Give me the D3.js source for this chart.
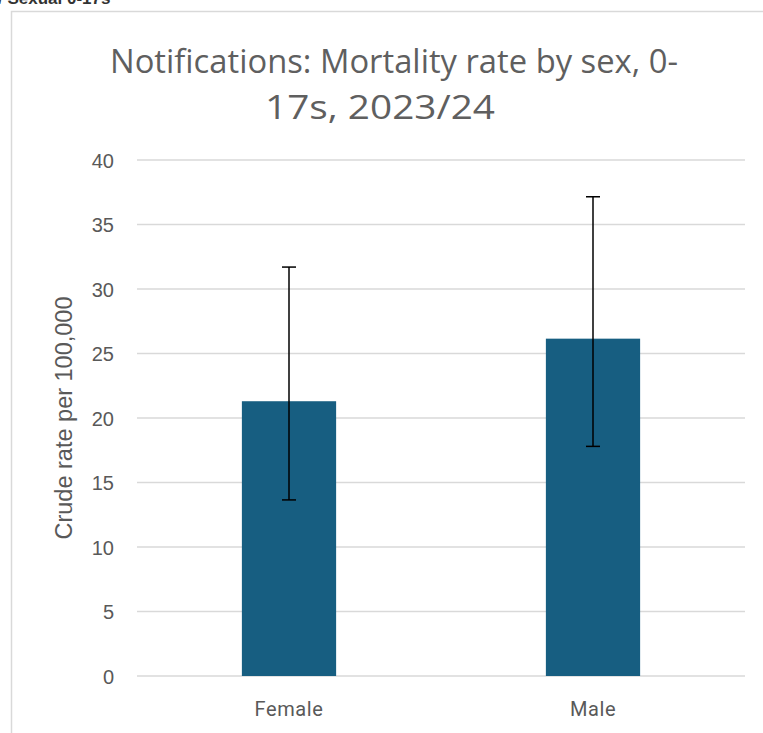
<!DOCTYPE html>
<html>
<head>
<meta charset="utf-8">
<script src="https://cdn.jsdelivr.net/npm/d3@7"></script>
<style>
  html, body { margin: 0; padding: 0; background: #fff; }
  svg { display: block; }
</style>
</head>
<body>
<svg id="chart" width="763" height="733"></svg>
<script>
// ---- data ----
const categories = ["Female", "Male"];
const rates = [21.3, 26.15];
const lowerCI = [13.65, 17.8];
const upperCI = [31.7, 37.15];
const yTicks = [0, 5, 10, 15, 20, 25, 30, 35, 40];
const titleLines = ["Notifications: Mortality rate by sex, 0-", "17s, 2023/24"];
const yAxisTitle = "Crude rate per 100,000";
const clippedHeader = "/ Sexual 0-17s";

const svg = d3.select("#chart");
const plot = { left: 137, right: 745, top: 160, bottom: 676 };
const grey = "#595959";

// clipped header text at very top
svg.append("text")
  .attr("x", -2).attr("y", 4)
  .attr("font-family", "Liberation Sans, Arial, sans-serif")
  .attr("font-size", 17).attr("font-weight", "bold")
  .attr("fill", "#333")
  .text(clippedHeader);

// chart area border
svg.append("rect")
  .attr("x", 11.5).attr("y", 11.5)
  .attr("width", 770).attr("height", 760)
  .attr("fill", "#fff")
  .attr("stroke", "#d9d9d9").attr("stroke-width", 1.5);

const x = d3.scaleBand().domain(categories).range([plot.left, plot.right]).padding(0);
const y = d3.scaleLinear().domain([0, 40]).range([plot.bottom, plot.top]);
const barW = x.bandwidth() * 0.31;

// gridlines
svg.append("g").selectAll("line").data(yTicks).join("line")
  .attr("x1", plot.left).attr("x2", plot.right)
  .attr("y1", d => y(d)).attr("y2", d => y(d))
  .attr("stroke", "#d9d9d9").attr("stroke-width", 1.5);

// y axis tick labels
const yAxis = d3.axisLeft(y).tickValues(yTicks).tickSize(0).tickPadding(0);
const gy = svg.append("g").attr("transform", `translate(${114},0)`).call(yAxis);
gy.select(".domain").remove();
gy.selectAll("text")
  .attr("font-family", "Liberation Sans, Arial, sans-serif")
  .attr("font-size", 20).attr("fill", grey)
  .attr("dy", "0.36em");

// bars
svg.append("g").selectAll("rect").data(categories).join("rect")
  .attr("x", d => x(d) + x.bandwidth() / 2 - barW / 2)
  .attr("width", barW)
  .attr("y", (d, i) => y(rates[i]))
  .attr("height", (d, i) => y(0) - y(rates[i]))
  .attr("fill", "#175e81");

// error bars
const eb = svg.append("g").attr("stroke", "#000").attr("stroke-width", 1.5);
categories.forEach((c, i) => {
  const cx = x(c) + x.bandwidth() / 2;
  eb.append("line").attr("x1", cx).attr("x2", cx).attr("y1", y(upperCI[i])).attr("y2", y(lowerCI[i]));
  eb.append("line").attr("x1", cx - 7).attr("x2", cx + 7).attr("y1", y(upperCI[i])).attr("y2", y(upperCI[i]));
  eb.append("line").attr("x1", cx - 7).attr("x2", cx + 7).attr("y1", y(lowerCI[i])).attr("y2", y(lowerCI[i]));
});

// x axis labels
const xAxis = d3.axisBottom(x).tickSize(0).tickPadding(0);
const gx = svg.append("g").attr("transform", `translate(0,${716})`).call(xAxis);
gx.select(".domain").remove();
gx.selectAll("text")
  .attr("font-family", "Roboto, 'Noto Sans', sans-serif")
  .attr("font-size", 20).attr("fill", grey)
  .attr("letter-spacing", 0.6)
  .attr("dy", 0);

// y axis title
svg.append("text")
  .attr("transform", `translate(72,${418}) rotate(-90)`)
  .attr("text-anchor", "middle")
  .attr("font-family", "Liberation Sans, Arial, sans-serif")
  .attr("font-size", 23.5).attr("fill", grey)
  .text(yAxisTitle);

// title
const titleBase = [73, 119];
const titleWidths = [568, 230];
const titleCenters = [394, 380];
titleLines.forEach((t, i) => {
  svg.append("text")
    .attr("x", titleCenters[i]).attr("y", titleBase[i])
    .attr("text-anchor", "middle")
    .attr("font-family", "'Open Sans', 'Noto Sans', sans-serif")
    .attr("font-size", 33).attr("fill", "#5f5f5f")
    .attr("textLength", titleWidths[i]).attr("lengthAdjust", "spacingAndGlyphs")
    .text(t);
});
</script>
</body>
</html>
